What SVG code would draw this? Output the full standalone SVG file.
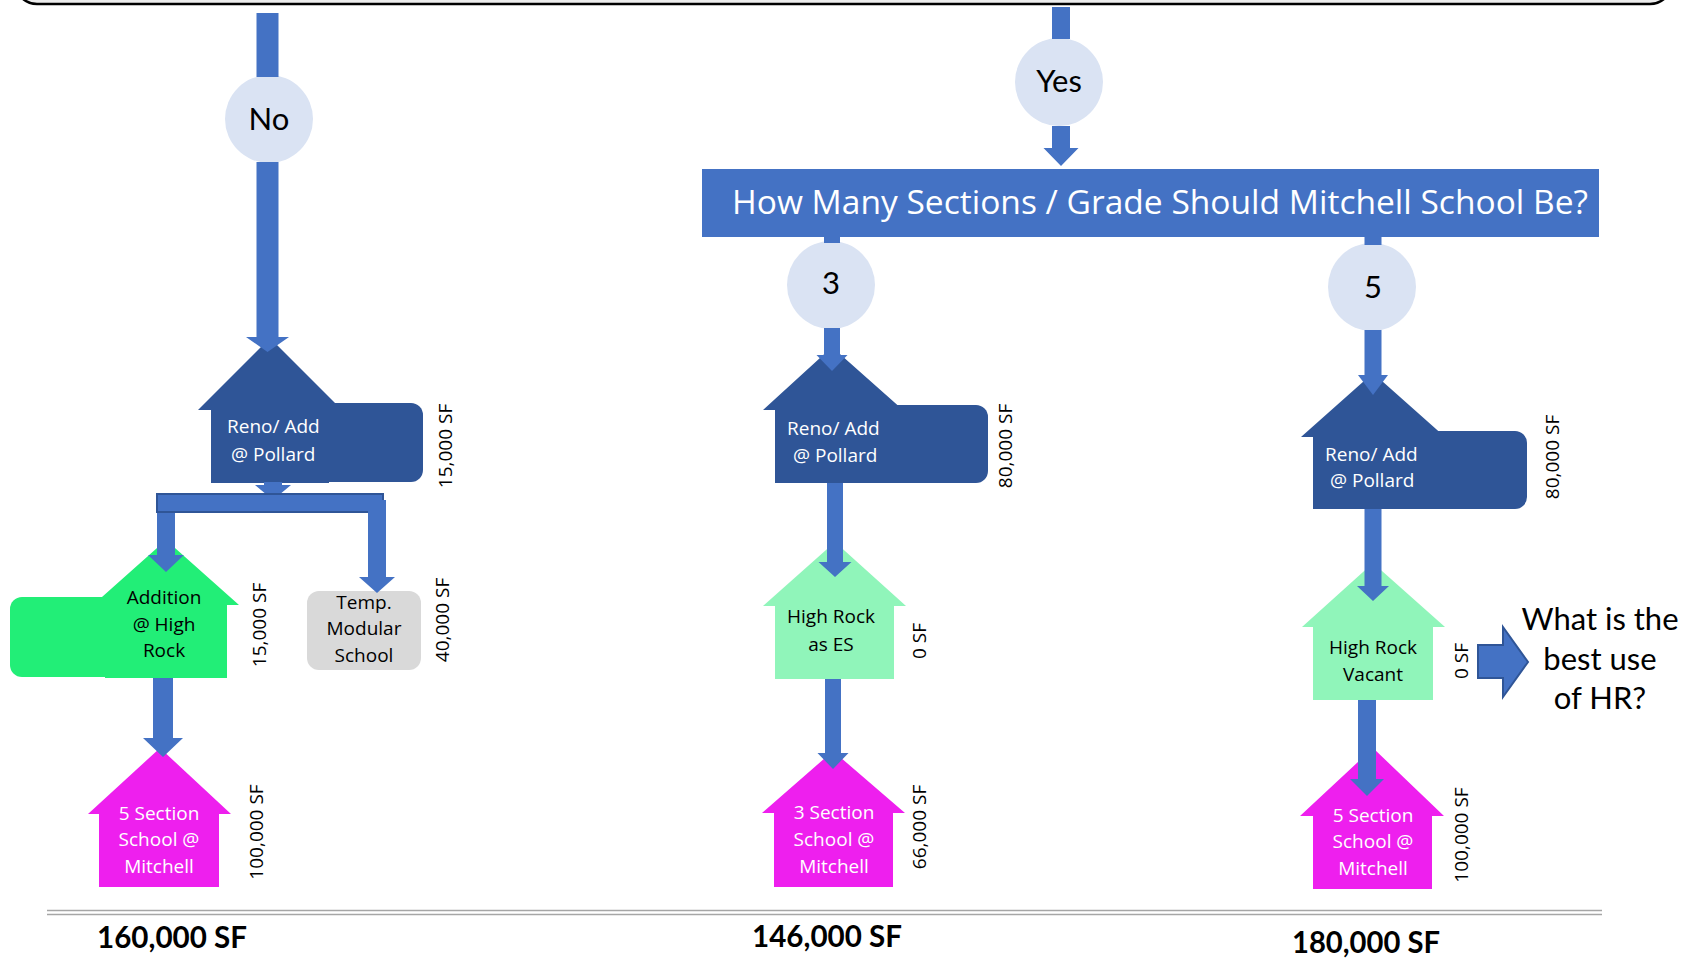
<svg xmlns="http://www.w3.org/2000/svg" width="1687" height="960" viewBox="0 0 1687 960">
<style>
.bg{fill:#ffffff}
.frame{fill:#ececec;stroke:#000;stroke-width:2.5}
.circ{fill:#dae3f3}
.ctext{font-family:Lato,"Open Sans",sans-serif;font-size:31px;fill:#000;text-anchor:middle}
.dark{fill:#2f5597}
.green{fill:#22ee77}
.lgreen{fill:#90f5ba}
.mag{fill:#ee1fee}
.gray{fill:#d9d9d9}
.arr{fill:#4472c4}
.bar{fill:#4472c4;stroke:#2f5597;stroke-width:2}
.wt{font-family:"Open Sans","Noto Sans",sans-serif;font-size:19px;fill:#fff}
.bt{font-family:"Open Sans","Noto Sans",sans-serif;font-size:19px;fill:#000}
.mid{text-anchor:middle}
.rot{font-family:"Open Sans","Noto Sans",sans-serif;font-size:19px;fill:#000;text-anchor:middle}
.banner{fill:#4472c4}
.btext{font-family:"Open Sans","Noto Sans",sans-serif;font-size:32px;fill:#fff}
.q{font-family:Lato,"Open Sans",sans-serif;font-size:31px;fill:#000;text-anchor:middle}
.tot{font-family:Lato,"Open Sans",sans-serif;font-size:30px;font-weight:bold;fill:#000}
.rule{stroke:#a6a6a6;stroke-width:1.6;fill:none}
</style>
<rect class="bg" x="0" y="0" width="1687" height="960"/>
<rect class="frame" x="15" y="-40" width="1657" height="44" rx="22"/>

<!-- left column -->
<g id="no">
<circle class="circ" cx="269" cy="119" r="44"/>
<text class="ctext" x="269" y="130">No</text>
</g>
<g id="reno-left">
<rect class="dark" x="300" y="403" width="123" height="79" rx="12"/>
<path class="dark" d="M270,338 L342,410 L329,410 L329,483 L211,483 L211,410 L198,410 Z"/>
<text class="wt" x="227" y="433">Reno/ Add</text>
<text class="wt" x="231" y="461">@ Pollard</text>
<text class="rot" transform="translate(445 446) rotate(-90)" y="7">15,000 SF</text>
</g>
<g id="addition">
<rect class="green" x="10" y="597" width="130" height="80" rx="12"/>
<path class="green" d="M166,540 L239,605 L227,605 L227,678 L105,678 L105,605 L93,605 Z"/>
<text class="bt mid" x="164" y="604">Addition</text>
<text class="bt mid" x="164" y="631">@ High</text>
<text class="bt mid" x="164" y="657">Rock</text>
<text class="rot" transform="translate(259 625) rotate(-90)" y="7">15,000 SF</text>
</g>
<g id="temp">
<rect class="gray" x="307" y="591" width="114" height="79" rx="12"/>
<text class="bt mid" x="364" y="609">Temp.</text>
<text class="bt mid" x="364" y="635">Modular</text>
<text class="bt mid" x="364" y="662">School</text>
<text class="rot" transform="translate(442 620) rotate(-90)" y="7">40,000 SF</text>
</g>
<g id="mitchell-left">
<path class="mag" d="M160,748 L231,814 L219,814 L219,887 L99,887 L99,814 L88,814 Z"/>
<text class="wt mid" x="159" y="820">5 Section</text>
<text class="wt mid" x="159" y="846">School @</text>
<text class="wt mid" x="159" y="873">Mitchell</text>
<text class="rot" transform="translate(256 832) rotate(-90)" y="7">100,000 SF</text>
</g>

<!-- middle column -->
<g id="yes">
<circle class="circ" cx="1059" cy="82" r="44"/>
<text class="ctext" x="1059" y="92">Yes</text>
</g>
<g id="question">
<rect class="banner" x="702" y="169" width="897" height="68"/>
<text class="btext" x="732" y="214" textLength="856" lengthAdjust="spacingAndGlyphs">How Many Sections / Grade Should Mitchell School Be?</text>
</g>
<g id="three">
<circle class="circ" cx="831" cy="285" r="44"/>
<text class="ctext" x="831" y="294">3</text>
</g>
<g id="reno-mid">
<rect class="dark" x="870" y="405" width="118" height="78" rx="12"/>
<path class="dark" d="M832,347 L903,410 L889,410 L889,483 L775,483 L775,410 L763,410 Z"/>
<text class="wt" x="787" y="435">Reno/ Add</text>
<text class="wt" x="793" y="462">@ Pollard</text>
<text class="rot" transform="translate(1005 446) rotate(-90)" y="7">80,000 SF</text>
</g>
<g id="hr-es">
<path class="lgreen" d="M835,542 L906,606 L894,606 L894,679 L775,679 L775,606 L763,606 Z"/>
<text class="bt mid" x="831" y="623">High Rock</text>
<text class="bt mid" x="831" y="651">as ES</text>
<text class="rot" transform="translate(919 641) rotate(-90)" y="7">0 SF</text>
</g>
<g id="mitchell-mid">
<path class="mag" d="M833,751 L905,813 L893,813 L893,887 L774,887 L774,813 L762,813 Z"/>
<text class="wt mid" x="834" y="819">3 Section</text>
<text class="wt mid" x="834" y="846">School @</text>
<text class="wt mid" x="834" y="873">Mitchell</text>
<text class="rot" transform="translate(919 827) rotate(-90)" y="7">66,000 SF</text>
</g>

<!-- right column -->
<g id="five">
<circle class="circ" cx="1372" cy="287" r="44"/>
<text class="ctext" x="1373" y="298">5</text>
</g>
<g id="reno-right">
<rect class="dark" x="1410" y="431" width="117" height="78" rx="12"/>
<path class="dark" d="M1373,373 L1445,437 L1433,437 L1433,509 L1313,509 L1313,437 L1301,437 Z"/>
<text class="wt" x="1325" y="461">Reno/ Add</text>
<text class="wt" x="1330" y="487">@ Pollard</text>
<text class="rot" transform="translate(1552 457) rotate(-90)" y="7">80,000 SF</text>
</g>
<g id="hr-vacant">
<path class="lgreen" d="M1373,563 L1445,627 L1433,627 L1433,700 L1313,700 L1313,627 L1302,627 Z"/>
<text class="bt mid" x="1373" y="654">High Rock</text>
<text class="bt mid" x="1373" y="681">Vacant</text>
<text class="rot" transform="translate(1461 661) rotate(-90)" y="7">0 SF</text>
</g>
<g id="best-use">
<text class="q" x="1600" y="630">What is the</text>
<text class="q" x="1600" y="670">best use</text>
<text class="q" x="1600" y="709">of HR?</text>
</g>
<g id="mitchell-right">
<path class="mag" d="M1373,748 L1444,816 L1432,816 L1432,889 L1313,889 L1313,816 L1300,816 Z"/>
<text class="wt mid" x="1373" y="822">5 Section</text>
<text class="wt mid" x="1373" y="848">School @</text>
<text class="wt mid" x="1373" y="875">Mitchell</text>
<text class="rot" transform="translate(1461 835) rotate(-90)" y="7">100,000 SF</text>
</g>

<!-- connectors -->
<g id="connectors">
<rect class="arr" x="256.5" y="13" width="22" height="64"/>
<polygon class="arr" points="256.5,162 278.5,162 278.5,337 289,337 267.5,352 246,337 256.5,337"/>
<polygon class="arr" points="264,482 282,482 282,485 291,485 273,500 255,485 264,485"/>
<rect class="bar" x="157" y="494" width="226" height="18"/>
<polygon class="arr" points="157,513 175,513 175,555 184,555 166,572 148,555 157,555"/>
<polygon class="arr" points="368,500 386,500 386,577 395,577 377,593 359,577 368,577"/>
<polygon class="arr" points="153,678 173,678 173,738 183,738 163,757 143,738 153,738"/>

<rect class="arr" x="1052" y="7" width="18" height="32"/>
<polygon class="arr" points="1052,126 1070,126 1070,148 1078.5,148 1061,166 1043.5,148 1052,148"/>
<rect class="arr" x="824" y="236" width="16" height="7"/>
<polygon class="arr" points="824,328 840,328 840,355 847.5,355 832,371 816.5,355 824,355"/>
<polygon class="arr" points="827,483 843,483 843,562 851.5,562 835,577 818.5,562 827,562"/>
<polygon class="arr" points="825,679 841,679 841,753 848.5,753 833,769 817.5,753 825,753"/>

<rect class="arr" x="1364.5" y="236" width="17" height="9"/>
<polygon class="arr" points="1364.5,330 1381.5,330 1381.5,375 1388,375 1373,395 1358,375 1364.5,375"/>
<polygon class="arr" points="1364.5,509 1381.5,509 1381.5,586 1389,586 1373,601 1357,586 1364.5,586"/>
<polygon class="arr" points="1358,700 1376,700 1376,779 1384,779 1367,796 1350,779 1358,779"/>
<polygon class="bar" points="1478,645 1503,645 1503,627 1528,662 1503,697 1503,678 1478,678"/>
</g>

<!-- totals -->
<line class="rule" x1="47" y1="910.5" x2="1602" y2="910.5"/>
<line class="rule" x1="47" y1="914.5" x2="1602" y2="914.5"/>
<text class="tot" x="97" y="948" textLength="150" lengthAdjust="spacingAndGlyphs">160,000 SF</text>
<text class="tot" x="752" y="947" textLength="150" lengthAdjust="spacingAndGlyphs">146,000 SF</text>
<text class="tot" x="1292" y="953" textLength="148" lengthAdjust="spacingAndGlyphs">180,000 SF</text>
</svg>
